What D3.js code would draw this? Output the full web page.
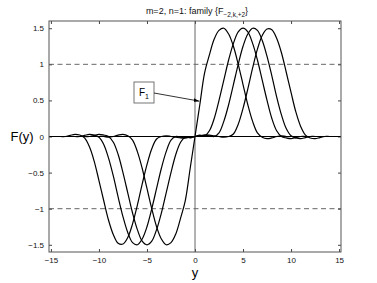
<!DOCTYPE html>
<html>
<head>
<meta charset="utf-8">
<script src="https://cdn.jsdelivr.net/npm/d3@7"></script>
<style>
body { margin: 0; background: #fff; }
text { font-family: "Liberation Sans", Arial, sans-serif; }
</style>
</head>
<body>
<svg id="chart" width="377" height="283"></svg>
<script>
// sample positions along y
var yVals = [-15,-14.5,-14,-13.5,-13,-12.5,-12,-11.5,-11,-10.5,-10,-9.5,-9,-8.5,-8,-7.5,-7,-6.5,-6,-5.5,-5,-4.5,-4,-3.5,-3,-2.5,-2,-1.5,-1,-0.5,
  0,0.5,1,1.5,2,2.5,3,3.5,4,4.5,5,5.5,6,6.5,7,7.5,8,8.5,9,9.5,10,10.5,11,11.5,12,12.5,13,13.5,14,14.5,15];

// the four family members
var f1 = [0,0,0,0,0,0,0,0,0,0,0,0,-0.01,0,0.02,0.03,0.01,-0.05,-0.21,-0.44,-0.72,-1.00,-1.25,-1.42,-1.50,-1.47,-1.35,-1.13,-0.88,-0.44,
  0,0.44,0.88,1.13,1.35,1.47,1.50,1.42,1.25,1.00,0.72,0.44,0.21,0.05,-0.01,-0.03,-0.02,0,0.01,0,0,0,0,0,0,0,0,0,0,0,0];
var f2 = [0,0,0,0,0,0,0,0,0,0.015,0.03,0.02,0,-0.08,-0.25,-0.50,-0.78,-1.06,-1.29,-1.45,-1.50,-1.45,-1.29,-1.06,-0.78,-0.50,-0.25,-0.08,-0.01,-0.02,
  0,0.02,0.01,0.08,0.25,0.50,0.78,1.06,1.29,1.45,1.50,1.45,1.29,1.06,0.78,0.50,0.25,0.08,0,-0.02,-0.03,-0.015,0,0,0,0,0,0,0,0,0];
var f3 = [0,0,0,0,0,0,0,0.015,0.03,0.02,-0.01,-0.11,-0.30,-0.55,-0.84,-1.11,-1.33,-1.47,-1.50,-1.42,-1.25,-1.00,-0.72,-0.44,-0.21,-0.05,0,-0.01,-0.02,-0.01,
  0,0.01,0.02,0.01,0,0.05,0.21,0.44,0.72,1.00,1.25,1.42,1.50,1.47,1.33,1.11,0.84,0.55,0.30,0.11,0.01,-0.02,-0.03,-0.015,0,0,0,0,0,0,0];
var f4 = [0,0,0,0,0.015,0.03,0.02,-0.02,-0.14,-0.34,-0.61,-0.89,-1.16,-1.36,-1.48,-1.49,-1.40,-1.21,-0.95,-0.66,-0.39,-0.17,-0.035,0,0.01,0,-0.01,-0.02,-0.02,-0.01,
  0,0.01,0.02,0.02,0.01,0,-0.01,0,0.035,0.17,0.39,0.66,0.95,1.21,1.40,1.49,1.48,1.36,1.16,0.89,0.61,0.34,0.14,0.02,-0.02,-0.03,-0.015,0,0,0,0];

var xTicks = [-15,-10,-5,0,5,10,15];
var yTicks = [-1.5,-1,-0.5,0,0.5,1,1.5];
var refLines = [1, -1];

var svg = d3.select("#chart");

var pLeft = 49, pRight = 341, pTop = 21, pBottom = 252;

var x = d3.scaleLinear().domain([-15.2, 15.2]).range([pLeft, pRight]);
var y = d3.scaleLinear().domain([-1.6, 1.6]).range([pBottom, pTop]);

function fmt(d){ return (d < 0 ? "\u2212" : "") + Math.abs(d); }

// axes, ticks inside like matlab
svg.append("g")
  .attr("transform", "translate(0," + pBottom + ")")
  .call(d3.axisBottom(x).tickValues(xTicks).tickSizeInner(-3).tickSizeOuter(0).tickPadding(5).tickFormat(fmt))
  .call(function(g){ g.select(".domain").remove(); });
svg.append("g")
  .attr("transform", "translate(0," + pTop + ")")
  .call(d3.axisTop(x).tickValues(xTicks).tickSizeInner(-3).tickSizeOuter(0).tickFormat(""))
  .call(function(g){ g.select(".domain").remove(); });
svg.append("g")
  .attr("transform", "translate(" + pLeft + ",0)")
  .call(d3.axisLeft(y).tickValues(yTicks).tickSizeInner(-3).tickSizeOuter(0).tickPadding(5).tickFormat(fmt))
  .call(function(g){ g.select(".domain").remove(); });
svg.append("g")
  .attr("transform", "translate(" + pRight + ",0)")
  .call(d3.axisRight(y).tickValues(yTicks).tickSizeInner(-3).tickSizeOuter(0).tickFormat(""))
  .call(function(g){ g.select(".domain").remove(); });

svg.selectAll(".tick line").attr("stroke", "#444");
svg.selectAll(".tick text").attr("font-size", 8).attr("fill", "#111")
  .attr("font-family", "Liberation Sans, Arial, sans-serif");

// dashed reference lines
svg.selectAll(".ref").data(refLines).enter().append("line")
  .attr("x1", pLeft).attr("x2", pRight)
  .attr("y1", function(d){ return y(d); }).attr("y2", function(d){ return y(d); })
  .attr("stroke", "#555").attr("stroke-width", 0.9).attr("stroke-dasharray", "5,3.5");

// zero lines
svg.append("line").attr("x1", x(0)).attr("x2", x(0)).attr("y1", pTop).attr("y2", pBottom)
  .attr("stroke", "#666").attr("stroke-width", 1);
svg.append("line").attr("x1", pLeft).attr("x2", pRight).attr("y1", y(0)).attr("y2", y(0))
  .attr("stroke", "#000").attr("stroke-width", 1.2);

// curves
var line = d3.line()
  .x(function(d){ return x(d[0]); })
  .y(function(d){ return y(d[1]); })
  .curve(d3.curveCatmullRom);

[f1, f2, f3, f4].forEach(function(s){
  svg.append("path")
    .datum(yVals.map(function(v, i){ return [v, s[i]]; }))
    .attr("d", line)
    .attr("fill", "none")
    .attr("stroke", "#000")
    .attr("stroke-width", 1.2);
});

// frame
svg.append("rect").attr("x", pLeft).attr("y", pTop).attr("width", pRight - pLeft).attr("height", pBottom - pTop)
  .attr("fill", "none").attr("stroke", "#555").attr("stroke-width", 1);

// title
var title = svg.append("text").attr("x", 197).attr("y", 14).attr("text-anchor", "middle")
  .attr("font-size", 9).attr("fill", "#111");
title.append("tspan").text("m=2, n=1:  family {F");
title.append("tspan").attr("font-size", 6.5).attr("dy", 2.5).text("\u22122,k,+2");
title.append("tspan").attr("dy", -2.5).text("}");

// axis labels
svg.append("text").attr("x", 195).attr("y", 277).attr("text-anchor", "middle")
  .attr("font-size", 13).attr("fill", "#000").text("y");
svg.append("text").attr("x", 22).attr("y", 141).attr("text-anchor", "middle")
  .attr("font-size", 13).attr("fill", "#000").text("F(y)");

// annotation
svg.append("defs").append("marker")
  .attr("id", "arr").attr("viewBox", "0 0 10 10").attr("refX", 10).attr("refY", 5)
  .attr("markerWidth", 7).attr("markerHeight", 7).attr("orient", "auto")
  .append("path").attr("d", "M0,1.5L10,5L0,8.5Z").attr("fill", "#000");

svg.append("rect").attr("x", 134).attr("y", 82).attr("width", 20).attr("height", 21)
  .attr("fill", "#fff").attr("stroke", "#666").attr("stroke-width", 0.9);
var lab = svg.append("text").attr("x", 139).attr("y", 96).attr("font-size", 10).attr("fill", "#000");
lab.append("tspan").text("F");
lab.append("tspan").attr("font-size", 7).attr("dy", 2.5).text("1");

svg.append("line").attr("x1", 154).attr("y1", 93).attr("x2", x(0.45)).attr("y2", y(0.49))
  .attr("stroke", "#000").attr("stroke-width", 0.8).attr("marker-end", "url(#arr)");
</script>
</body>
</html>
